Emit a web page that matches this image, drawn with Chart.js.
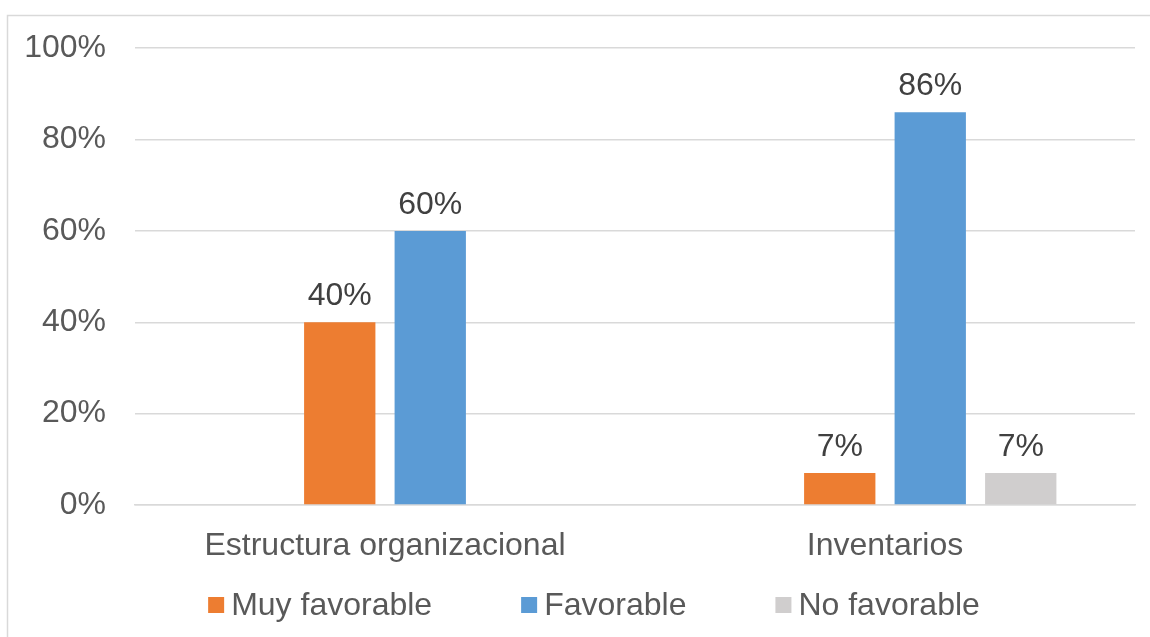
<!DOCTYPE html>
<html>
<head>
<meta charset="utf-8">
<script src="https://cdn.jsdelivr.net/npm/chart.js@4/dist/chart.umd.min.js"></script>
<style>
  html, body { margin: 0; padding: 0; background: #fff; }
  #wrap { width: 1150px; height: 637px; position: relative; }
</style>
</head>
<body>
<div id="wrap"><canvas id="chart"></canvas></div>
<script>
const categories = ["Estructura organizacional", "Inventarios"];
const seriesNames = ["Desfavorable", "Muy favorable", "Favorable", "No favorable"];
const desfavorable = [null, null];
const muyFavorable = [40, 7];
const favorable = [60, 86];
const noFavorable = [null, 7];
const yTicks = [0, 20, 40, 60, 80, 100];

const colors = ["rgba(0,0,0,0)", "#ED7D31", "#5B9BD5", "#D0CECE"];
const textColor = "#595959";
const fontFamily = "'Liberation Sans', Arial, sans-serif";
const fontSize = 32;

// outer frame of the chart object
const framePlugin = {
  id: "frame",
  beforeDraw(chart) {
    const ctx = chart.ctx;
    ctx.save();
    ctx.fillStyle = "#fff";
    ctx.fillRect(0, 0, chart.width, chart.height);
    ctx.strokeStyle = "#d9d9d9";
    ctx.lineWidth = 1.5;
    ctx.strokeRect(7.5, 15.5, chart.width + 50, chart.height + 50);
    ctx.restore();
  }
};

// value labels above each bar
const valueLabels = {
  id: "valueLabels",
  afterDatasetsDraw(chart) {
    const ctx = chart.ctx;
    ctx.save();
    ctx.font = fontSize + "px " + fontFamily;
    ctx.fillStyle = "#404040";
    ctx.textAlign = "center";
    ctx.textBaseline = "alphabetic";
    chart.data.datasets.forEach((ds, i) => {
      const meta = chart.getDatasetMeta(i);
      meta.data.forEach((bar, j) => {
        const v = ds.data[j];
        if (v === null || v === undefined) return;
        ctx.fillText(v + "%", bar.x, bar.y - 17);
      });
    });
    ctx.restore();
  }
};

// legend row under the axis: square swatch + series name, centred
const legendRow = {
  id: "legendRow",
  afterDraw(chart) {
    const ctx = chart.ctx;
    const box = 16, textGap = 7, itemGap = 89, centerX = 594, y = 606;
    ctx.save();
    ctx.font = fontSize + "px " + fontFamily;
    ctx.textBaseline = "middle";
    ctx.textAlign = "left";
    const items = chart.data.datasets.slice(1).map(ds => ({
      text: ds.label,
      color: ds.backgroundColor,
      w: box + textGap + ctx.measureText(ds.label).width
    }));
    const total = items.reduce((s, it) => s + it.w, 0) + itemGap * (items.length - 1);
    let x = centerX - total / 2;
    items.forEach(it => {
      ctx.fillStyle = it.color;
      ctx.fillRect(x, y - box / 2 - 1, box, box);
      ctx.fillStyle = textColor;
      ctx.fillText(it.text, x + box + textGap, y);
      x += it.w + itemGap;
    });
    ctx.restore();
  }
};

new Chart(document.getElementById("chart"), {
  type: "bar",
  data: {
    labels: categories,
    datasets: [desfavorable, muyFavorable, favorable, noFavorable].map((d, i) => ({
      label: seriesNames[i],
      data: d,
      backgroundColor: colors[i],
      categoryPercentage: 0.724,
      barPercentage: 0.788
    }))
  },
  options: {
    responsive: true,
    maintainAspectRatio: false,
    animation: false,
    layout: { padding: { top: 46, right: 15, left: 15, bottom: 50 } },
    scales: {
      x: {
        grid: { display: false },
        border: { display: true, color: "#d9d9d9", width: 1.5 },
        afterFit(axis) { axis.height = 82; },
        ticks: { color: textColor, font: { family: fontFamily, size: fontSize }, padding: 14 }
      },
      y: {
        min: 0,
        max: 100,
        afterBuildTicks(axis) { axis.ticks = yTicks.map(v => ({ value: v })); },
        afterFit(axis) { axis.width = 120; },
        grid: { color: "#d9d9d9", lineWidth: 1.5, drawTicks: false },
        border: { display: false },
        ticks: {
          color: textColor,
          font: { family: fontFamily, size: fontSize },
          padding: 29,
          callback: v => v + "%"
        }
      }
    },
    plugins: {
      legend: { display: false },
      tooltip: { enabled: false }
    }
  },
  plugins: [framePlugin, valueLabels, legendRow]
});
</script>
</body>
</html>
